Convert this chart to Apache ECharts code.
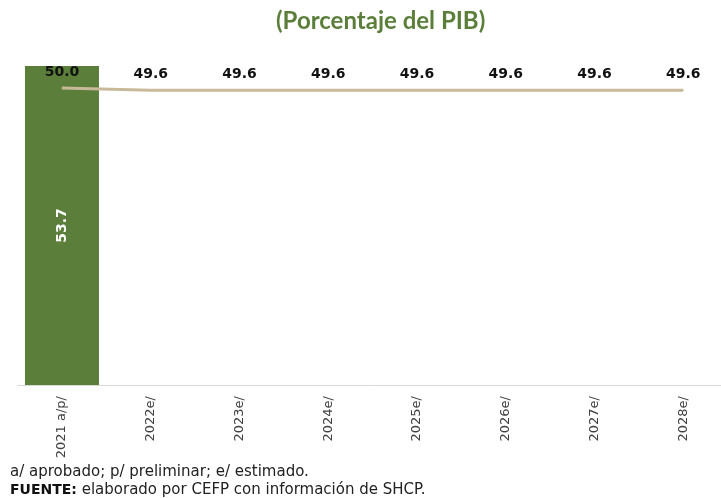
<!DOCTYPE html>
<html>
<head>
<meta charset="utf-8">
<script src="https://cdn.jsdelivr.net/npm/echarts@6/dist/echarts.min.js"></script>
<style>
  html, body { margin: 0; padding: 0; background: #fff; }
</style>
</head>
<body>
<div id="main" style="width: 721px; height: 498px"></div>
<script>
// datos
const categorias = ['2021 a/p/', '2022e/', '2023e/', '2024e/', '2025e/', '2026e/', '2027e/', '2028e/']
const barra = [53.7, null, null, null, null, null, null, null]
const linea = [50.0, 49.6, 49.6, 49.6, 49.6, 49.6, 49.6, 49.6]

const chart = echarts.init(document.getElementById('main'))
chart.setOption({
  animation: false,
  title: {
    text: '(Porcentaje del PIB)',
    left: 271,
    top: 4,
    textStyle: {
      color: '#5B7F3B',
      fontFamily: 'Lato',
      fontWeight: 'bold',
      fontSize: 24,
    },
  },
  grid: {
    left: 17.6,
    top: 66,
    width: 710,
    height: 319,
    outerBoundsMode: 'none',
  },
  xAxis: {
    type: 'category',
    data: categorias,
    axisLine: { lineStyle: { color: '#d9d9d9', width: 1 } },
    axisTick: { show: false },
    axisLabel: {
      rotate: 90,
      margin: 11,
      color: '#404040',
      fontSize: 13,
      fontFamily: 'DejaVu Sans',
      interval: 0,
    },
  },
  yAxis: {
    type: 'value',
    min: 0,
    max: 53.7,
    show: false,
    splitLine: { show: false },
  },
  series: [
    {
      type: 'bar',
      data: barra,
      barWidth: 74,
      itemStyle: { color: '#5B7F3B' },
      label: {
        show: true,
        position: 'inside',
        rotate: 90,
        color: '#fff',
        fontSize: 14,
        fontWeight: 'bold',
        fontFamily: 'DejaVu Sans',
        formatter: (p) => p.value.toFixed(1),
      },
    },
    {
      type: 'line',
      data: linea,
      symbol: 'circle',
      symbolSize: 1,
      itemStyle: { color: '#C9B99B' },
      lineStyle: { color: '#C9B99B', width: 3 },
      label: {
        show: true,
        position: 'top',
        distance: 8,
        color: '#111',
        fontSize: 14,
        fontWeight: 'bold',
        fontFamily: 'DejaVu Sans',
        formatter: (p) => p.value.toFixed(1),
      },
      z: 3,
    },
  ],
  graphic: [
    {
      type: 'text',
      left: 10,
      top: 465,
      style: {
        text: 'a/ aprobado; p/ preliminar; e/ estimado.',
        fill: '#222',
        font: '15px "DejaVu Sans"',
      },
    },
    {
      type: 'text',
      left: 10,
      top: 483,
      style: {
        text: '{b|FUENTE:} elaborado por CEFP con información de SHCP.',
        fill: '#222',
        font: '15px "DejaVu Sans"',
        rich: {
          b: { fontWeight: 'bold', fontSize: 14, fontFamily: 'DejaVu Sans', fill: '#111' },
        },
      },
    },
  ],
})
</script>
</body>
</html>
